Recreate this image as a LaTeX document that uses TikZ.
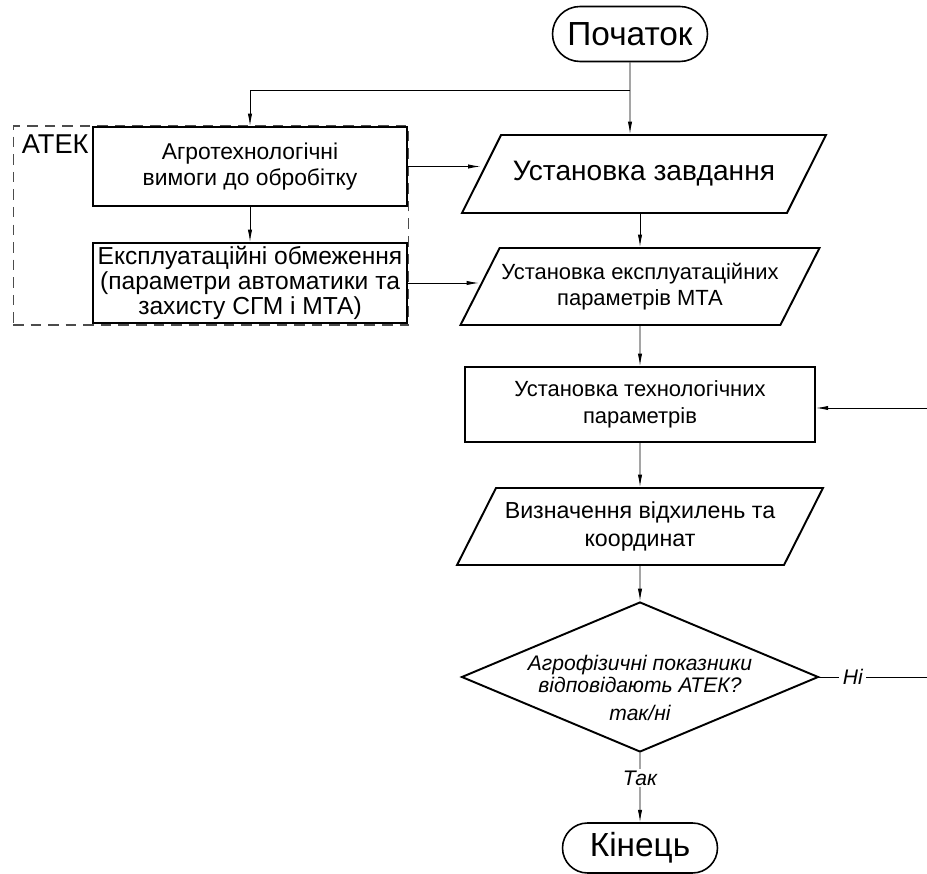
\documentclass[tikz,border=0pt]{standalone}
\usepackage{fontspec}
\setmainfont{Liberation Sans}
\usetikzlibrary{positioning,arrows.meta,shapes.geometric,shapes.misc}

\begin{document}
\begin{tikzpicture}[x=0.02cm,y=-0.02cm]
		\tikzset{block/.style = {draw,rectangle,line width=1.1pt,align=center,inner sep=1pt}}
		\tikzset{io/.style = {draw,trapezium,trapezium left angle=63,trapezium right angle=117,
			trapezium stretches body,line width=1.1pt,align=center,inner xsep=1pt}}
		\tikzset{term/.style = {draw,rounded rectangle,line width=0.9pt,inner sep=0pt}}
		\tikzset{decide/.style = {draw,diamond,aspect=2.38,line width=1.1pt,inner sep=0pt}}
		\tikzset{group/.style = {draw=black!70,dash pattern=on 6pt off 4pt,line width=0.6pt}}
		\tikzset{flow/.style = {->,> = {Latex[length=7pt,width=2.4pt]},line width=0.5pt}}
		\useasboundingbox (0,0) rectangle (927,874);

		% main column
		\node[term,minimum width=3.1cm,minimum height=1.1cm,font=\fontsize{19}{21}\selectfont] (start) at (630,34) {Початок};
		\node[io,inner ysep=14.7pt,minimum width=7.28cm,minimum height=1.56cm,font=\fontsize{16}{18}\selectfont] (par1) at (644,174) {Установка завдання};
		\node[io,inner ysep=8.4pt,minimum width=7.0cm,minimum height=1.54cm,font=\fontsize{12.5}{15}\selectfont] (par2) at (640,286.5) {Установка експлуатаційних\\параметрів МТА};
		\node[block,minimum width=7.0cm,minimum height=1.5cm,font=\fontsize{12.5}{15.5}\selectfont] (box3) at (640,404.5) {Установка технологічних\\параметрів};
		\node[io,inner ysep=7.6pt,minimum width=7.32cm,minimum height=1.54cm,font=\fontsize{13.2}{16}\selectfont] (par3) at (640,526.5) {Визначення відхилень та\\координат};
		\node[decide,minimum width=7.14cm,minimum height=3cm] (dec) at (640,677) {};
		\node[align=center,font=\fontsize{12}{12.5}\selectfont\itshape] (dectxt) at (640,688) {Агрофізичні показники\\відповідають АТЕК?\\[3pt]так/ні};
		\node[term,minimum width=3.1cm,minimum height=1.0cm,font=\fontsize{19}{21}\selectfont] (end) at (640,848) {Кінець};

		% ATEK group
		\node[group,minimum width=7.92cm,minimum height=3.98cm] (atek) at (211,225.5) {};
		\node[anchor=north west,inner sep=0pt,font=\fontsize{15.5}{17}\selectfont] (atekname) at ([xshift=0.18cm,yshift=-0.18cm]atek.north west) {АТЕК};
		\node[block,minimum width=6.28cm,minimum height=1.58cm,font=\fontsize{13}{14.5}\selectfont] (box1) at (250,166.5) {Агротехнологічні\\вимоги до обробітку};
		\node[block,minimum width=6.28cm,minimum height=1.6cm,font=\fontsize{14}{14.3}\selectfont] (box2) at (250,283) {Експлуатаційні обмеження\\(параметри автоматики та\\захисту СГМ і МТА)};

		% free ends
		\coordinate (split) at (630,90);
		\coordinate (noout) at (927,677);
		\coordinate (noin) at (927,408);

		% edges
		\draw[flow] (start) -- (start |- par1.north);
		\draw[flow] (split) -| (box1);
		\draw[flow] (box1) -- (box2);
		\draw[flow] (box1.east) -- (box1.east -| par1.west);
		\draw[flow] (box2.east) -- (box2.east -| par2.west);
		\draw[flow] (par2.north |- par1.south) -- (par2.north);
		\draw[flow] (par2) -- (box3);
		\draw[flow] (box3) -- (par3);
		\draw[flow] (par3) -- (dec);
		\draw[flow] (dec) -- node[fill=white,pos=0.36,inner sep=1pt,font=\fontsize{12}{14}\selectfont\itshape] (yes) {Так} (end);
		\draw[line width=0.5pt] (dec.east) -- node[fill=white,pos=0.31,inner sep=2pt,font=\fontsize{12}{14}\selectfont\itshape] (no) {Ні} (noout);
		\draw[flow] (noin) -- (noin -| box3.east);
	\end{tikzpicture}
\end{document}
